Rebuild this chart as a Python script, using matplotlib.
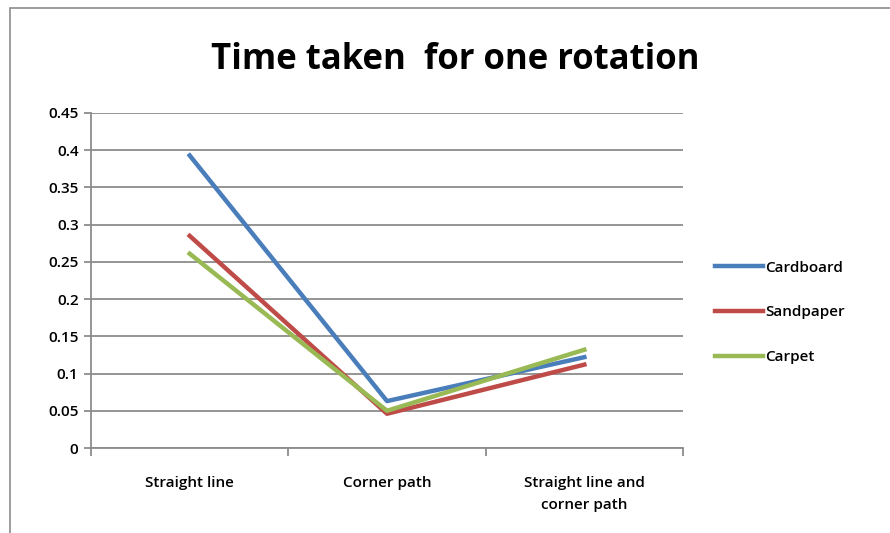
import matplotlib.pyplot as plt
from matplotlib.patches import Rectangle

categories = ["Straight line", "Corner path", "Straight line and\ncorner path"]
cardboard = [0.393, 0.063, 0.122]
sandpaper = [0.285, 0.046, 0.112]
carpet = [0.261, 0.050, 0.132]
y_ticks = [0, 0.05, 0.1, 0.15, 0.2, 0.25, 0.3, 0.35, 0.4, 0.45]
y_tick_labels = ["0", "0.05", "0.1", "0.15", "0.2", "0.25", "0.3", "0.35", "0.4", "0.45"]

plt.rcParams['font.family'] = ['Open Sans', 'DejaVu Sans']

fig = plt.figure(figsize=(8.9, 5.33), dpi=100)
ax = fig.add_axes([91 / 890, 1 - 448 / 533, (683 - 91) / 890, (448 - 113) / 533])

# outer chart border
fig.patches.append(Rectangle((10 / 890, -0.01), 1.0, 1 - 8 / 533 + 0.01,
                             transform=fig.transFigure, fill=False,
                             edgecolor="#8c8c8c", linewidth=1.2))

x = range(len(categories))
ax.plot(x, cardboard, color="#4a7ebb", linewidth=3.2, label="Cardboard")
ax.plot(x, sandpaper, color="#be4b48", linewidth=3.2, label="Sandpaper")
ax.plot(x, carpet, color="#98b954", linewidth=3.2, label="Carpet")

ax.set_xlim(-0.5, 2.5)
ax.set_ylim(0, 0.45)
ax.set_yticks(y_ticks)
ax.set_yticklabels(y_tick_labels, fontsize=11, fontweight="semibold")
ax.yaxis.grid(True, color="#8c8c8c", linewidth=1.3)
ax.set_axisbelow(True)

ax.set_xticks(list(x))
ax.set_xticklabels(categories, fontsize=11, fontweight="semibold", linespacing=1.75)
ax.set_xticks([-0.5, 0.5, 1.5, 2.5], minor=True)
ax.tick_params(axis="x", which="major", length=0, pad=20)
ax.tick_params(axis="x", which="minor", length=6, color="#8c8c8c", width=1.3)
ax.tick_params(axis="y", length=5, color="#8c8c8c", width=1.3, pad=4)

for side in ["top", "right"]:
    ax.spines[side].set_visible(False)
for side in ["left", "bottom"]:
    ax.spines[side].set_color("#8c8c8c")
    ax.spines[side].set_linewidth(1.3)

fig.text(455 / 890, 1 - 60 / 533, "Time taken  for one rotation", ha="center", va="center",
         fontsize=25, fontweight="bold")

leg = ax.legend(loc="center left", bbox_to_anchor=(1.03, 0.405), frameon=False,
                handlelength=3.2, handletextpad=0.1, labelspacing=2.0,
                prop={"size": 11, "weight": "semibold"})

fig.savefig("out.png", dpi=100)
